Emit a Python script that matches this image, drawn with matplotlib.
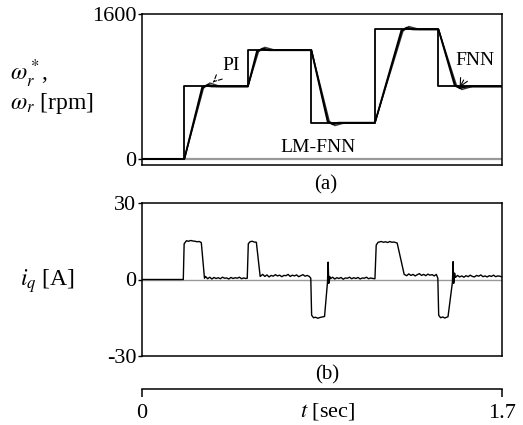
import matplotlib
matplotlib.use("Agg")
import matplotlib.pyplot as plt

plt.rcParams['font.family'] = ['Liberation Serif', 'DejaVu Serif']
plt.rcParams['mathtext.fontset'] = 'stix'

W, H = 523, 425

# ---- speed data (rpm) ----
ref_t = [0, 0.2, 0.2, 0.5, 0.5, 0.8, 0.8, 1.1, 1.1, 1.4, 1.4, 1.7]
ref_w = [0, 0, 800, 800, 1200, 1200, 400, 400, 1430, 1430, 800, 800]

lm_t = [0, 0.2, 0.284, 0.30, 0.33, 0.5, 0.543, 0.562, 0.60, 0.8, 0.877, 0.893, 0.93,
        1.1, 1.225, 1.243, 1.28, 1.4, 1.477, 1.494, 1.53, 1.7]
lm_w = [0, 0, 790, 808, 800, 800, 1192, 1208, 1200, 1200, 408, 392, 400,
        400, 1420, 1440, 1430, 1430, 808, 792, 800, 800]

fnn_t = [0, 0.2, 0.287, 0.31, 0.35, 0.5, 0.546, 0.57, 0.61, 0.8, 0.88, 0.90, 0.94,
         1.1, 1.228, 1.25, 1.29, 1.4, 1.48, 1.50, 1.54, 1.7]
fnn_w = [0, 0, 785, 822, 800, 800, 1188, 1222, 1200, 1200, 412, 380, 400,
         400, 1415, 1452, 1430, 1430, 812, 778, 800, 800]

pi_t = [0, 0.2, 0.29, 0.32, 0.37, 0.5, 0.55, 0.58, 0.63, 0.8, 0.884, 0.91, 0.96,
        1.1, 1.232, 1.26, 1.31, 1.4, 1.484, 1.51, 1.56, 1.7]
pi_w = [0, 0, 780, 838, 800, 800, 1183, 1232, 1200, 1200, 418, 368, 400,
        400, 1410, 1462, 1430, 1430, 818, 766, 800, 800]

# ---- q-axis current (A) ----
cur_t = [0.000, 0.195, 0.199, 0.21, 0.22, 0.23, 0.24, 0.25, 0.26, 0.27, 0.28, 0.295,
         0.30, 0.31, 0.32, 0.33, 0.34, 0.35, 0.36, 0.37, 0.38, 0.39, 0.40, 0.41, 0.42,
         0.43, 0.44, 0.45, 0.46, 0.47, 0.48, 0.49,
         0.497, 0.502, 0.51, 0.52, 0.53, 0.54, 0.558,
         0.57, 0.58, 0.59, 0.60, 0.61, 0.62, 0.63, 0.64, 0.65, 0.66, 0.67, 0.68, 0.69,
         0.70, 0.71, 0.72, 0.73, 0.74, 0.75, 0.76, 0.77, 0.78, 0.79,
         0.797, 0.801, 0.81, 0.82, 0.83, 0.84, 0.85, 0.862, 0.876, 0.879, 0.882, 0.886,
         0.89, 0.90, 0.91, 0.92, 0.93, 0.94, 0.95, 0.96, 0.97, 0.98, 0.99, 1.00, 1.01,
         1.02, 1.03, 1.04, 1.05, 1.06, 1.07, 1.08, 1.09,
         1.100, 1.106, 1.115, 1.13, 1.14, 1.15, 1.16, 1.17, 1.18, 1.19, 1.205, 1.238,
         1.25, 1.26, 1.27, 1.28, 1.29, 1.30, 1.31, 1.32, 1.33, 1.34, 1.35, 1.36, 1.37,
         1.38, 1.39,
         1.397, 1.401, 1.41, 1.42, 1.43, 1.445, 1.466, 1.469, 1.472, 1.476,
         1.48, 1.49, 1.50, 1.51, 1.52, 1.53, 1.54, 1.55, 1.56, 1.57, 1.58, 1.59, 1.60,
         1.61, 1.62, 1.63, 1.64, 1.65, 1.66, 1.67, 1.68, 1.69, 1.70]
cur_a = [0, 0, 14.0, 15.2, 15.0, 15.3, 15.1, 15.0, 14.8, 14.9, 14.5, 0.5,
         1.2, 0.3, 0.9, 0.2, 0.8, 0.4, 0.7, 0.3, 0.9, 0.5, 0.6, 0.2, 0.8,
         0.4, 0.7, 0.5, 0.9, 0.3, 0.6, 0.4,
         0.5, 14.0, 14.8, 15.0, 14.7, 14.6, 1.2,
         2.0, 1.2, 1.8, 1.0, 1.6, 1.3, 1.9, 1.4, 1.7, 1.1, 1.6, 1.5, 2.0,
         1.2, 1.7, 1.4, 1.8, 1.1, 1.5, 1.9, 1.3, 1.6, 1.2,
         0.5, -14.0, -15.0, -14.8, -15.2, -14.9, -14.7, -14.5, -1.0, 6.8, -1.5, 1.2,
         0.3, 0.9, 0.2, 0.7, 0.4, 0.8, 0.1, 0.6, 0.5, 0.9, 0.3, 0.7, 0.4,
         0.8, 0.2, 0.6, 0.5, 0.9, 0.3, 0.6, 0.4,
         0.3, 13.5, 14.6, 14.9, 14.6, 14.8, 14.5, 14.9, 14.6, 14.7, 14.3, 2.0,
         1.5, 2.2, 1.6, 2.0, 1.4, 1.9, 2.3, 1.6, 2.0, 1.5, 2.1, 1.7, 1.9,
         1.4, 2.0,
         0.5, -14.0, -15.0, -14.7, -15.1, -14.6, -1.0, 7.0, -1.5, 2.5,
         0.8, 1.6, 1.0, 1.4, 0.9, 1.5, 1.1, 1.7, 1.2, 1.0, 1.6, 1.3, 1.8,
         1.1, 1.4, 1.0, 1.5, 1.2, 1.7, 1.1, 1.4, 1.3, 1.0]

t_max = 1.7
speed_ticks = [0, 1600]
speed_ticklabels = ['0', '1600']
cur_ticks = [-30, 0, 30]
cur_ticklabels = ['-30', '0', '30']


def rect(x0, y0, x1, y1):
    return [x0 / W, 1 - y1 / H, (x1 - x0) / W, (y1 - y0) / H]


def fp(x, y):
    return (x / W, 1 - y / H)


fig = plt.figure(figsize=(W / 100, H / 100), dpi=100)

# ---------- (a) speed ----------
ax1 = fig.add_axes(rect(142, 14, 502, 165))
ax1.axhline(0, color='#999999', lw=1.6, zorder=1)
ax1.plot(ref_t, ref_w, color='black', lw=1.3, zorder=3)
ax1.plot(pi_t, pi_w, color='#333333', lw=1.0, zorder=2)
ax1.plot(fnn_t, fnn_w, color='black', lw=1.0, zorder=2)
ax1.plot(lm_t, lm_w, color='black', lw=1.3, zorder=2)
ax1.set_xlim(0, t_max)
ax1.set_ylim(-67, 1600)
ax1.set_xticks([])
ax1.set_yticks(speed_ticks)
ax1.set_yticklabels(speed_ticklabels, fontsize=16)
ax1.tick_params(axis='y', direction='out', length=3, width=1, pad=1)

ax1.annotate('PI', xy=(0.335, 845), xytext=(0.42, 1030), fontsize=14,
             ha='center', va='center',
             arrowprops=dict(arrowstyle='->', lw=0.8, ls='--', color='black',
                             shrinkA=6, shrinkB=0))
ax1.annotate('FNN', xy=(1.5, 790), xytext=(1.57, 1090), fontsize=14,
             ha='center', va='center',
             arrowprops=dict(arrowstyle='->', lw=0.8, color='black',
                             shrinkA=7, shrinkB=0))
ax1.text(0.83, 130, 'LM-FNN', fontsize=14, ha='center', va='center')

for sp in ax1.spines.values():
    sp.set_linewidth(1.1)

# ---------- (b) current ----------
ax2 = fig.add_axes(rect(142, 203, 502, 356))
ax2.axhline(0, color='#999999', lw=1.0, zorder=1)
ax2.plot(cur_t, cur_a, color='black', lw=1.0, zorder=2)
ax2.set_xlim(0, t_max)
ax2.set_ylim(-30, 30)
ax2.set_xticks([])
ax2.set_yticks(cur_ticks)
ax2.set_yticklabels(cur_ticklabels, fontsize=16)
ax2.tick_params(axis='y', direction='out', length=3, width=1, pad=1)
for sp in ax2.spines.values():
    sp.set_linewidth(1.1)

# ---------- time axis ----------
ax3 = fig.add_axes(rect(142, 389, 502, 390))
ax3.set_xlim(0, t_max)
ax3.set_ylim(0, 1)
for s in ['left', 'right', 'bottom']:
    ax3.spines[s].set_visible(False)
ax3.spines['top'].set_linewidth(1.1)
ax3.set_yticks([])
ax3.set_xticks([0, t_max])
ax3.tick_params(axis='x', direction='in', length=6, width=1.1, pad=2,
                top=True, bottom=False, labeltop=False, labelbottom=False)
fig.text(*fp(142, 413), '0', fontsize=16, ha='center', va='center')
fig.text(*fp(502, 413), '1.7', fontsize=16, ha='center', va='center')
fig.text(*fp(328, 412), r'$t$ [sec]', fontsize=16, ha='center', va='center')

# ---------- labels ----------
fig.text(*fp(10, 74), r'$\omega_r^*$,', fontsize=17, ha='left', va='center')
fig.text(*fp(10, 104), r'$\omega_r$ [rpm]', fontsize=17, ha='left', va='center')
fig.text(*fp(20, 281), r'$i_q$ [A]', fontsize=17, ha='left', va='center')
fig.text(*fp(326, 185), '(a)', fontsize=15, ha='center', va='center')
fig.text(*fp(327, 375), '(b)', fontsize=15, ha='center', va='center')

fig.savefig('out.png', dpi=100)
